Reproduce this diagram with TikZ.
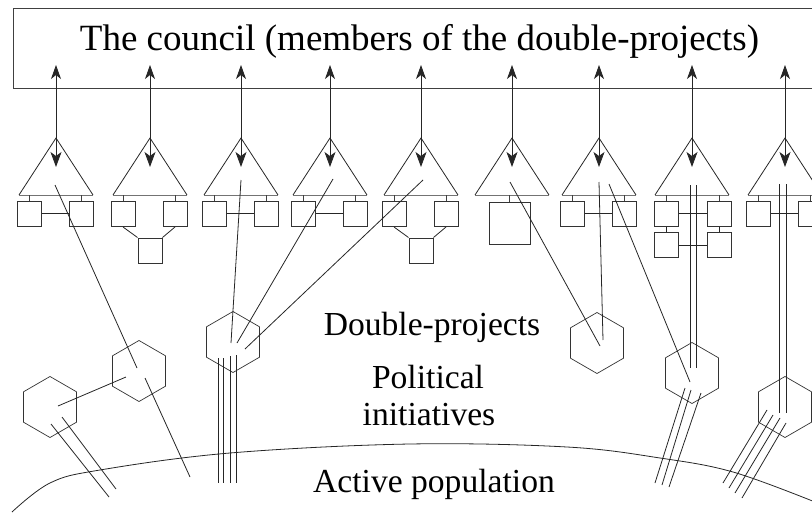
\documentclass[tikz,border=0pt]{standalone}
\usepackage{fontspec}
\setmainfont{Liberation Serif}
\usetikzlibrary{arrows.meta,shapes.geometric}
\begin{document}
\begin{tikzpicture}[x=1pt,y=-1pt,
  ln/.style={line width=0.8pt, draw=black!85},
  thin/.style={line width=0.6pt, draw=black!75},
  cell/.style={draw=black!80, line width=1pt, rectangle, minimum width=24pt, minimum height=25pt, inner sep=0pt},
  bigcell/.style={cell, minimum width=41pt, minimum height=42pt},
  hexa/.style={draw=black!80, line width=0.7pt, regular polygon, regular polygon sides=6, shape border rotate=30, minimum size=61pt, inner sep=0pt},
  lbl/.style={font=\fontsize{33.6}{36}\selectfont, anchor=base, inner sep=0pt},
  ttl/.style={font=\fontsize{37}{40}\selectfont, anchor=base, inner sep=0pt},
  dbl/.style={ln, {Stealth[length=14pt,width=10pt,inset=4pt]}-{Stealth[length=15pt,width=11pt,inset=4pt]}}
]
\useasboundingbox (0,0) rectangle (812,514);
\clip (0,0) rectangle (812,514);

% council box
\node (council) [draw=black!75, line width=1.1pt, minimum width=840pt, minimum height=80pt, anchor=north west, inner sep=0pt] at (13,8) {};
\node (title) [ttl] at (419.5,50) {The council (members of the double-projects)};

% arrows and triangles
\foreach \a [count=\i] in {56,150,241,330,421,512,599,692,785}{
  \coordinate (up\i) at (\a,65);
  \coordinate (ap\i) at (\a,138);
  \coordinate (dn\i) at (\a,167);
  \coordinate (bl\i) at ({\a-37},195);
  \coordinate (br\i) at ({\a+37},195);
  \draw[dbl] (up\i) -- (dn\i);
  \draw[ln] (bl\i) -- (ap\i) -- (br\i);
  \draw[thin, draw=black!55] (bl\i) -- (br\i);
}

% pairs of boxes
\foreach \a/\i in {56/1,241/3,330/4,599/7,785/9}{
  \node[cell] (L\i) at ({\a-27},213.5) {};
  \node[cell] (R\i) at ({\a+25},213.5) {};
  \draw[thin] (L\i.north) -- (L\i.north |- bl\i);
  \draw[thin] (R\i.north) -- (R\i.north |- bl\i);
  \draw[ln] (L\i.east) -- (R\i.west);
}
% trios
\foreach \a/\i in {150/2,421/5}{
  \node[cell] (L\i) at ({\a-27},214) {};
  \node[cell] (R\i) at ({\a+25},214) {};
  \node[cell] (B\i) at (\a,250.5) {};
  \draw[thin] (L\i.north) -- (L\i.north |- bl\i);
  \draw[thin] (R\i.north) -- (R\i.north |- bl\i);
  \draw[ln] (L\i.south) -- (B\i.north west);
  \draw[ln] (R\i.south) -- (B\i.north east);
}
% single big box
\node[bigcell] (S6) at (509.5,223) {};
\draw[thin] (S6.north) -- (S6.north |- bl6);
% quad
\node[cell] (TL8) at (666,213.5) {};
\node[cell] (TR8) at (719,213.5) {};
\node[cell] (BL8) at (666,245) {};
\node[cell] (BR8) at (719,245) {};
\draw[thin] (TL8.north) -- (TL8.north |- bl8);
\draw[thin] (TR8.north) -- (TR8.north |- bl8);
\draw[ln] (TL8.east) -- (TR8.west);
\draw[ln] (BL8.east) -- (BR8.west);
\draw[ln] (TL8.south) -- (BL8.north);
\draw[ln] (TR8.south) -- (BR8.north);

% hexagons
\node[hexa] (h1) at (50,407) {};
\node[hexa] (h2) at (139,371) {};
\node[hexa] (h3) at (233,342) {};
\node[hexa] (h4) at (597,343) {};
\node[hexa] (h5) at (692,373) {};
\node[hexa] (h6) at (785,407) {};

% connectors
\coordinate (t1s) at (55,185);   \coordinate (h2a) at (137,368);
\coordinate (h2b) at (145,378);  \coordinate (p1) at (190,477);
\draw[ln] (t1s) -- (h2a);
\draw[ln] (h2b) -- (p1);
\coordinate (h1c) at (58,406);   \coordinate (h2c) at (126,377);
\draw[ln] (h1c) -- (h2c);
\coordinate (h1d) at (51,424);   \coordinate (p2) at (109,497);
\coordinate (h1e) at (62,417);   \coordinate (p3) at (116,489);
\draw[ln] (h1d) -- (p2);
\draw[ln] (h1e) -- (p3);

\coordinate (t3s) at (241,180);  \coordinate (h3a) at (231,343);
\coordinate (t4s) at (333,179);  \coordinate (h3b) at (237,343);
\coordinate (t5s) at (423,180);  \coordinate (h3c) at (245,349);
\draw[ln] (t3s) -- (h3a);
\draw[ln] (t4s) -- (h3b);
\draw[ln] (t5s) -- (h3c);
\foreach \x/\t in {218/358,223/358,230/356,236/355}{
  \draw[ln] (\x,\t) -- (\x,483);
}

\coordinate (t6s) at (510,182);  \coordinate (h4a) at (600,346);
\coordinate (t7s) at (599,182);  \coordinate (h4b) at (603,340);
\coordinate (t7t) at (609,184);  \coordinate (h5a) at (690,382);
\draw[ln] (t6s) -- (h4a);
\draw[ln] (t7s) -- (h4b);
\draw[ln] (t7t) -- (h5a);
\foreach \x in {690,696}{ \draw[ln] (\x,185) -- (\x,368); }
\foreach \x in {779,786}{ \draw[ln] (\x,184) -- (\x,413); }
\draw[ln] (685,388) -- (655,483);
\draw[ln] (691,390) -- (662,485);
\draw[ln] (701,393) -- (669,487);
\draw[ln] (767,410) -- (723,483);
\draw[ln] (773,415) -- (729,488);
\draw[ln] (780,418) -- (735,493);
\draw[ln] (786,423) -- (742,498);

% population curve
\draw[ln] plot[smooth, tension=0.6] coordinates {(12,512) (50,483) (100,470) (230,453) (410,444) (567,447) (660,458) (733,472) (815,502)};

% labels
\node (dp) [lbl] at (432,335) {Double-projects};
\node (pi1) [lbl] at (428,388) {Political};
\node (pi2) [lbl] at (429,425) {initiatives};
\node (ap) [lbl] at (434,492) {Active population};
\end{tikzpicture}
\end{document}
